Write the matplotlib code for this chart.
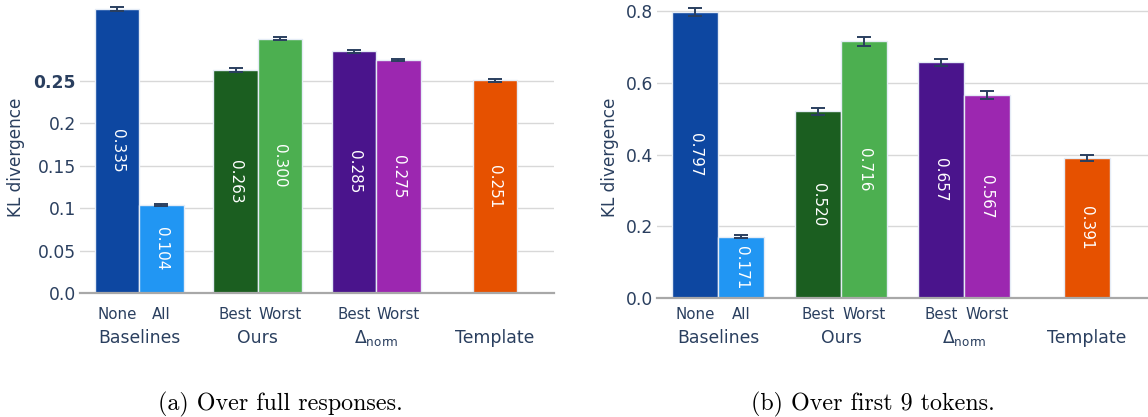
import matplotlib
matplotlib.use("Agg")
import matplotlib.pyplot as plt
import matplotlib.transforms as mtrans

plt.rcParams["font.family"] = ["DejaVu Sans"]
plt.rcParams["mathtext.fontset"] = "dejavusans"

# ---- data -------------------------------------------------------------
groups = ["Baselines", "Ours", r"$\Delta_{\mathrm{norm}}$", "Template"]
bar_group = [0, 0, 1, 1, 2, 2, 3]
bar_side = [-1, 1, -1, 1, -1, 1, 0]
bar_names = ["None", "All", "Best", "Worst", "Best", "Worst", ""]
bar_colors = ["#0D47A1", "#2196F3", "#1B5E20", "#4CAF50",
              "#4A148C", "#9C27B0", "#E65100"]

kl_full = [0.335, 0.104, 0.263, 0.300, 0.285, 0.275, 0.251]
kl_full_err = [0.0025, 0.001, 0.002, 0.002, 0.0015, 0.0015, 0.0018]

kl_first9 = [0.797, 0.171, 0.520, 0.716, 0.657, 0.567, 0.391]
kl_first9_err = [0.012, 0.004, 0.0095, 0.0125, 0.0105, 0.011, 0.0085]

full_ticks = [0.0, 0.05, 0.1, 0.15, 0.2, 0.25]
full_ticklabels = ["0.0", "0.05", "0.1", "0.15", "0.2", "0.25"]
first9_ticks = [0.0, 0.2, 0.4, 0.6, 0.8]
first9_ticklabels = ["0.0", "0.2", "0.4", "0.6", "0.8"]

captions = ["(a) Over full responses.", "(b) Over first 9 tokens."]

# ---- style --------------------------------------------------------------
INK = "#2a3f5f"
GRID = "#d8d8d8"
BAR_W = 0.375

W, H = 1148, 417
fig = plt.figure(figsize=(W / 100, H / 100), dpi=100)


def px_axes(x0, x1, y_top, y_bot):
    return fig.add_axes([x0 / W, 1 - y_bot / H, (x1 - x0) / W, (y_bot - y_top) / H])


def draw_panel(ax, values, errors, ticks, ticklabels, ymax, bold_tick=None,
               label_x=0.0, caption="", caption_x=0.0):
    xs = [g + s * BAR_W / 2 for g, s in zip(bar_group, bar_side)]
    ax.bar(xs, values, width=BAR_W, color=bar_colors,
           edgecolor="#E5ECF6", linewidth=1.0, zorder=2)
    ax.errorbar(xs, values, yerr=errors, fmt="none", ecolor=INK,
                elinewidth=1.4, capsize=4.7, capthick=1.4, zorder=3)
    for x, v in zip(xs, values):
        ax.text(x, v / 2, f"{v:.3f}", rotation=270, ha="center", va="center",
                color="white", fontsize=11, zorder=4)

    ax.set_xlim(-0.5, 3.5)
    ax.set_ylim(0, ymax)
    ax.set_yticks(ticks)
    ax.set_yticklabels(ticklabels)
    ax.tick_params(axis="y", length=0, pad=3, labelsize=12.3, labelcolor=INK)
    if bold_tick is not None:
        ax.get_yticklabels()[bold_tick].set_fontweight("bold")
    ax.set_xticks([])
    ax.yaxis.grid(True, color=GRID, linewidth=1.0, zorder=0)
    ax.set_axisbelow(True)
    for side in ("top", "right", "left"):
        ax.spines[side].set_visible(False)
    ax.spines["bottom"].set_color("#a8a8a8")
    ax.spines["bottom"].set_linewidth(1.6)
    ax.spines["bottom"].set_zorder(5)

    tr = mtrans.blended_transform_factory(ax.transData, fig.transFigure)
    for x, name in zip(xs, bar_names):
        if name:
            ax.text(x, 1 - 319 / H, name, transform=tr, ha="center",
                    va="baseline", fontsize=10.8, color=INK)
    for g, name in enumerate(groups):
        ax.text(g, 1 - 343 / H, name, transform=tr, ha="center",
                va="baseline", fontsize=12.4, color=INK)

    fig.text(label_x / W, 1 - 157 / H, "KL divergence", rotation=90,
             ha="center", va="center", fontsize=12.2, color=INK)
    fig.text(caption_x / W, 1 - 410 / H, caption, ha="center", va="baseline",
             fontsize=17.3, family="cmr10", color="black")


ax_a = px_axes(80, 554, 0, 293)
draw_panel(ax_a, kl_full, kl_full_err, full_ticks, full_ticklabels,
           ymax=293 / 848, bold_tick=5, label_x=16,
           caption=captions[0], caption_x=280)

ax_b = px_axes(657, 1148, 0, 298)
draw_panel(ax_b, kl_first9, kl_first9_err, first9_ticks, first9_ticklabels,
           ymax=298 / 358.75, label_x=610,
           caption=captions[1], caption_x=873)

fig.savefig("out.png", dpi=100)
